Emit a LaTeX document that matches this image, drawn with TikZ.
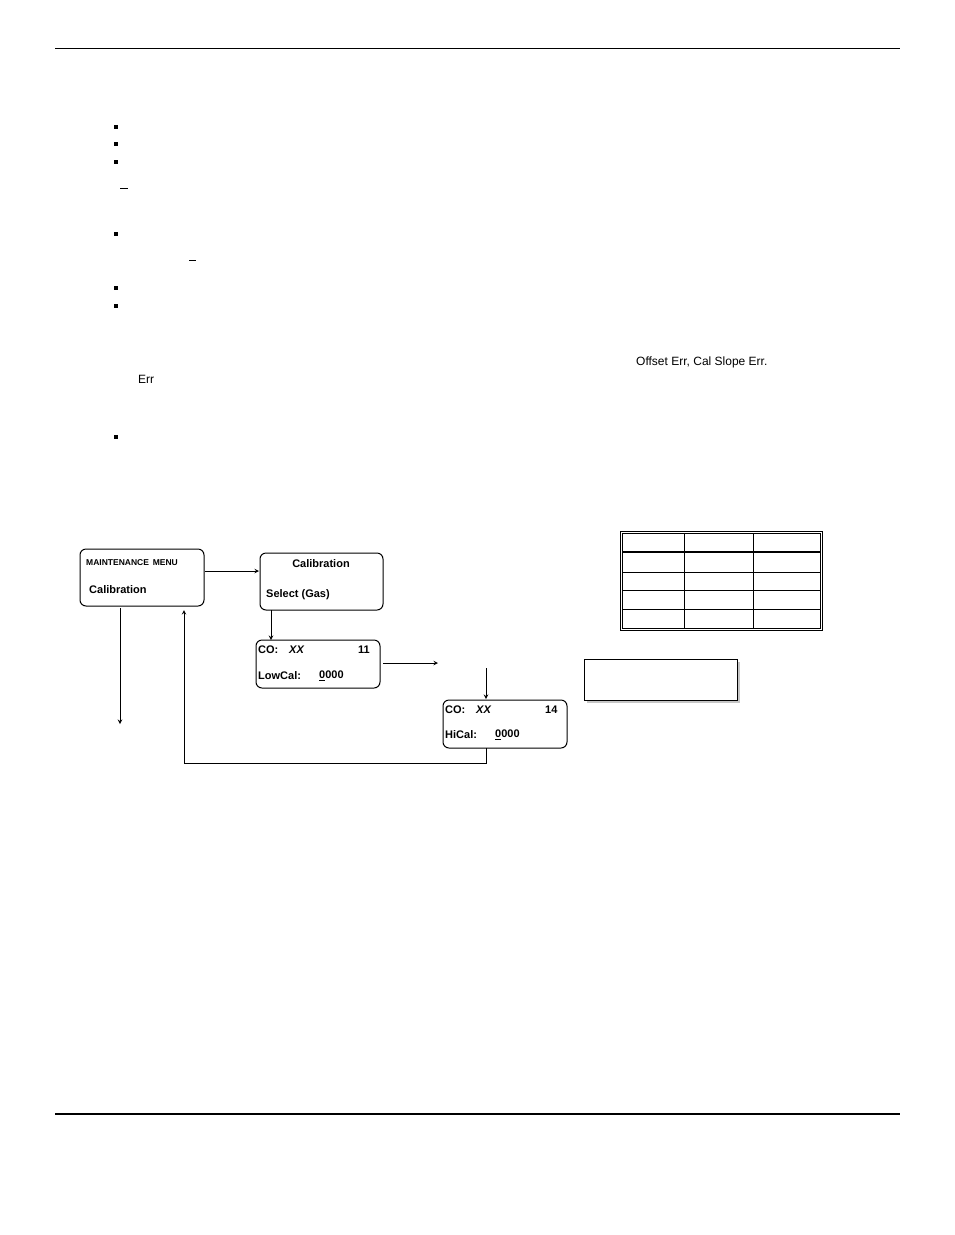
\documentclass[tikz,border=0pt]{standalone}
\usepackage{fontspec}
\setmainfont{Liberation Sans}
\begin{document}
\begin{tikzpicture}[x=1pt,y=-1pt,
  scr/.style={draw,line width=1pt,rounded corners=6pt},
  bt/.style={font=\fontsize{11}{13}\selectfont\bfseries,anchor=west,inner sep=0pt},
  arr/.style={line width=1pt,-stealth},
  bul/.style={fill,minimum size=4pt,inner sep=0pt},
  pt/.style={font=\fontsize{12}{14}\selectfont,anchor=west,inner sep=0pt}]
\useasboundingbox (0,0) rectangle (954,1235);
\draw[line width=0.8pt] (55,48) -- (900,48);
\draw[line width=1.2pt] (55,1114) -- (900,1114);
% bullets
\foreach \yy [count=\i] in {127,144,162,234,288,306,437} \node[bul] (b\i) at (116,\yy) {};
\draw (120,188) -- (128,188);
\draw (189,260) -- (196,260);
\node[pt] (t1) at (636,362) {Offset Err, Cal Slope Err.};
\node[pt] (t2) at (138,379) {Err};
% table
\draw[line width=1pt] (620,531) rectangle (822,630);
\draw[line width=0.8pt] (622,533) rectangle (820,628);
\draw[line width=0.8pt] (684,533) -- (684,628) (753,533) -- (753,628);
\draw[line width=2.5pt] (622,552) -- (820,552);
\foreach \yy in {572,590,609} \draw[line width=0.8pt] (622,\yy) -- (820,\yy);
% shadow box
\fill[gray!45] (587,662) rectangle (740,703);
\draw[fill=white,line width=0.8pt] (584,659) rectangle (737,700);
% screens
\draw[scr] (80,549) rectangle (204,606);
\node[bt,font=\fontsize{8.5}{10}\selectfont\bfseries] (mm1) at (86,563) {MAINTENANCE\, MENU};
\node[bt] (mm2) at (89,590) {Calibration};
\coordinate (mm) at (142,578);
\draw[scr] (260,553) rectangle (383,610);
\node[bt,anchor=center] (c1) at (321,564) {Calibration};
\node[bt] (c2) at (266,595) {Select (Gas)};
\draw[scr] (256,640) rectangle (380,688);
\node[bt] (l1) at (258,650) {CO:};
\node[bt,font=\fontsize{11}{13}\selectfont\bfseries\itshape] (l2) at (289,650) {XX};
\node[bt] (l3) at (358,650) {11};
\node[bt] (l4) at (258,676) {LowCal:};
\node[bt] (l5) at (319,676) {\underline{0}000};
\draw[scr] (443,700) rectangle (567,748);
\node[bt] (h1) at (445,710) {CO:};
\node[bt,font=\fontsize{11}{13}\selectfont\bfseries\itshape] (h2) at (476,710) {XX};
\node[bt] (h3) at (545,710) {14};
\node[bt] (h4) at (445,735) {HiCal:};
\node[bt] (h5) at (495,735) {\underline{0}000};
% arrows
\coordinate (a1) at (205,571); \coordinate (a2) at (259,571);
\draw[arr] (a1) -- (a2);
\coordinate (a3) at (271,610); \coordinate (a4) at (271,640);
\draw[arr] (a3) -- (a4);
\coordinate (a5) at (383,663); \coordinate (a6) at (438,663);
\draw[arr] (a5) -- (a6);
\coordinate (a7) at (486,668); \coordinate (a8) at (486,699);
\draw[arr] (a7) -- (a8);
\coordinate (a9) at (120,608); \coordinate (a10) at (120,724);
\draw[arr] (a9) -- (a10);
\coordinate (r1) at (486,748); \coordinate (r2) at (184,610);
\draw[arr] (r1) -- (486,763) -- (184,763) -- (r2);
\end{tikzpicture}
\end{document}
